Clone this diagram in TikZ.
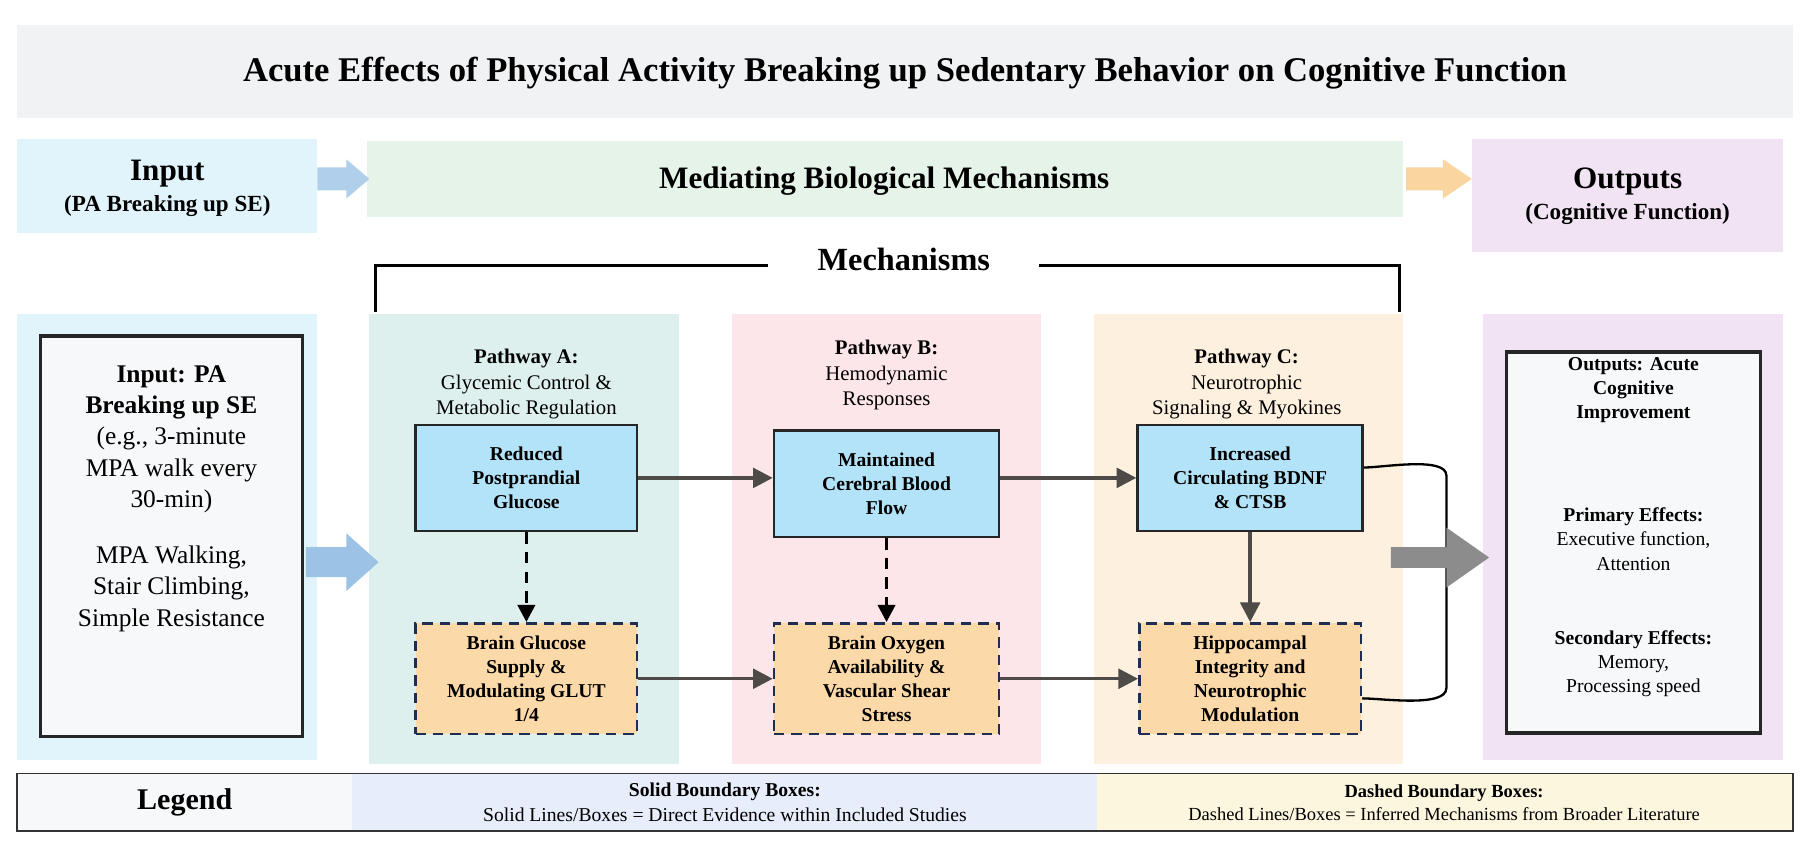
\documentclass[tikz,border=0pt]{standalone}
\usepackage{fontspec}
\setmainfont{Liberation Serif}
\usetikzlibrary{arrows.meta}
\definecolor{titlebg}{HTML}{F1F2F3}
\definecolor{inbg}{HTML}{E1F3FB}
\definecolor{medbg}{HTML}{E6F3E8}
\definecolor{outbg}{HTML}{F1E3F4}
\definecolor{pa}{HTML}{DDF0EE}
\definecolor{pb}{HTML}{FDE6E9}
\definecolor{pc}{HTML}{FDF0DF}
\definecolor{bluebox}{HTML}{B3E3F8}
\definecolor{orbox}{HTML}{FCD9A8}
\definecolor{navy}{HTML}{1F2D4F}
\definecolor{arr}{HTML}{4D4A48}
\definecolor{whitebox}{HTML}{F7F8FA}
\definecolor{legmid}{HTML}{E7EDFA}
\definecolor{legright}{HTML}{FDF6DF}
\definecolor{bigblue}{HTML}{9CC3E6}
\definecolor{bigorange}{HTML}{FBD5A0}
\definecolor{biggray}{HTML}{8C8C8C}
\tikzset{
  solidbox/.style={draw=black!85,line width=2.2pt,fill=bluebox,align=center,font=\fontsize{17}{21}\selectfont\bfseries},
  dashbox/.style={draw=navy,dash pattern=on 9pt off 6pt,line width=2.2pt,fill=orbox,align=center,font=\fontsize{17}{21}\selectfont\bfseries},
  flow/.style={draw=arr,line width=3pt,-{Triangle[length=17pt,width=17pt]}},
  dflow/.style={draw=black,line width=3pt,dash pattern=on 10pt off 7pt,-{Triangle[length=15pt,width=15pt]}},
  ptxt/.style={align=center,font=\fontsize{18}{22}\selectfont},
}
\begin{document}
\begin{tikzpicture}[x=1pt,y=-1pt]
\useasboundingbox (0,0) rectangle (1568,738);
\fill[white] (0,0) rectangle (1568,738);
% title
\fill[titlebg] (15,22) rectangle (1553,102);
\node (title) at (784,63) {\fontsize{30}{36}\selectfont\bfseries Acute Effects of Physical Activity Breaking up Sedentary Behavior on Cognitive Function};
% header row
\fill[inbg] (15,120) rectangle (275,202);
\node (inhead) at (145,163) [align=center] {{\fontsize{27}{32}\selectfont\bfseries Input}\\[6pt]{\fontsize{20}{24}\selectfont\bfseries (PA Breaking up SE)}};
\fill[medbg] (318,122) rectangle (1215,188);
\node (medhead) at (766,157) {\fontsize{27}{32}\selectfont\bfseries Mediating Biological Mechanisms};
\fill[outbg] (1275,120) rectangle (1545,218);
\node (outhead) at (1410,170) [align=center] {{\fontsize{27}{32}\selectfont\bfseries Outputs}\\[6pt]{\fontsize{20}{24}\selectfont\bfseries (Cognitive Function)}};
\fill[bigblue!80] (275,145) -- (300,145) -- (300,138) -- (320,155) -- (300,172) -- (300,165) -- (275,165) -- cycle;
\fill[bigorange] (1218,145) -- (1250,145) -- (1250,138) -- (1275,155) -- (1250,172) -- (1250,165) -- (1218,165) -- cycle;
% mechanisms bracket
\node (mech) at (783,225) {\fontsize{28}{32}\selectfont\bfseries Mechanisms};
\draw[line width=2.5pt] (325,270) -- (325,230) -- (665,230);
\draw[line width=2.5pt] (900,230) -- (1212,230) -- (1212,270);
% panels
\fill[inbg] (15,272) rectangle (275,658);
\fill[pa] (320,272) rectangle (588,662);
\fill[pb] (634,272) rectangle (902,662);
\fill[pc] (948,272) rectangle (1215,662);
\fill[outbg] (1285,272) rectangle (1545,658);
% input box
\node (inbox) [draw=black!85,line width=2.8pt,fill=whitebox,minimum width=227pt,minimum height=347pt] at (148.5,464.5) {};
\node (intxt) at (148.5,432) [align=center,font=\fontsize{22}{27}\selectfont] {\textbf{Input: PA}\\ \textbf{Breaking up SE}\\(e.g., 3-minute\\MPA walk every\\30-min)\\[22pt]MPA Walking,\\Stair Climbing,\\Simple Resistance};
% pathway labels
\node (pat) at (456,333) [ptxt] {\textbf{Pathway A:}\\Glycemic Control \&\\Metabolic Regulation};
\node (pbt) at (768,325) [ptxt] {\textbf{Pathway B:}\\Hemodynamic\\Responses};
\node (pct) at (1080,333) [ptxt] {\textbf{Pathway C:}\\Neurotrophic\\Signaling \& Myokines};
% boxes
\node (a1) [solidbox,minimum width=192pt,minimum height=92pt] at (456,414) {Reduced\\Postprandial\\Glucose};
\node (b1) [solidbox,minimum width=195pt,minimum height=92pt] at (768,419) {Maintained\\Cerebral Blood\\Flow};
\node (c1) [solidbox,minimum width=195pt,minimum height=92pt] at (1083,414) {Increased\\Circulating BDNF\\\& CTSB};
\node (a2) [dashbox,minimum width=192pt,minimum height=96pt] at (456,588) {Brain Glucose\\Supply \&\\Modulating GLUT\\1/4};
\node (b2) [dashbox,minimum width=195pt,minimum height=96pt] at (768,588) {Brain Oxygen\\Availability \&\\Vascular Shear\\Stress};
\node (c2) [dashbox,minimum width=192pt,minimum height=96pt] at (1083,588) {Hippocampal\\Integrity and\\Neurotrophic\\Modulation};
% connectors
\draw[flow] (a1.east) -- (a1.east -| b1.west);
\draw[flow] (b1.east |- c1.west) -- (c1.west);
\draw[flow] (a2.east) -- (b2.west);
\draw[flow] (b2.east) -- (c2.west);
\draw[dflow] (a1.south) -- (a2.north);
\draw[dflow] (b1.south) -- (b2.north);
\draw[flow] (c1.south) -- (c2.north);
\coordinate (brt) at (1253,412);
\coordinate (brb) at (1253,596);
\draw[line width=2pt] (c1.east |- 0,405) to[out=0,in=90,looseness=0.6] (brt) -- (brb) to[out=-90,in=0,looseness=0.6] (c2.east |- 0,605);
% big arrows
\fill[bigblue] (265,474) -- (300,474) -- (300,462) -- (328,487) -- (300,512) -- (300,500) -- (265,500) -- cycle;
\fill[biggray] (1205,474) -- (1253,474) -- (1253,457) -- (1290,483) -- (1253,509) -- (1253,492) -- (1205,492) -- cycle;
% output box
\node (outbox) [draw=black!85,line width=2.8pt,fill=whitebox,minimum width=220pt,minimum height=330pt] at (1415,470) {};
\node (outt1) at (1415,338) [align=center,font=\fontsize{17}{21}\selectfont\bfseries] {Outputs: Acute\\Cognitive\\Improvement};
\node (outt2) at (1415,467) [align=center,font=\fontsize{17}{21}\selectfont] {\textbf{Primary Effects:}\\Executive function,\\Attention};
\node (outt3) at (1415,575) [align=center,font=\fontsize{17}{21}\selectfont] {\textbf{Secondary Effects:}\\Memory,\\Processing speed};
% legend
\fill[whitebox] (15,670) rectangle (305,720);
\fill[legmid] (305,670) rectangle (950,720);
\fill[legright] (950,670) rectangle (1553,720);
\draw[black!80,line width=1.5pt] (15,670) rectangle (1553,720);
\node (leg) at (160,695) {\fontsize{26}{30}\selectfont\bfseries Legend};
\node (legs) at (628,695) [align=center,font=\fontsize{17}{21}\selectfont] {\textbf{Solid Boundary Boxes:}\\Solid Lines/Boxes = Direct Evidence within Included Studies};
\node (legd) at (1251,695) [align=center,font=\fontsize{16}{20}\selectfont] {\textbf{Dashed Boundary Boxes:}\\Dashed Lines/Boxes = Inferred Mechanisms from Broader Literature};
\end{tikzpicture}
\end{document}
